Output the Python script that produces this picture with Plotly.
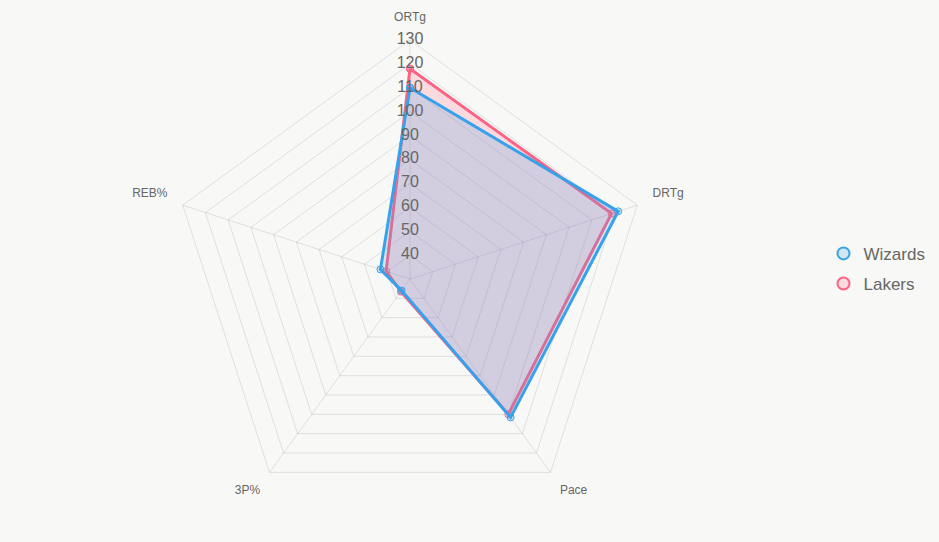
import plotly.graph_objects as go

categories = ["ORTg", "DRTg", "Pace", "3P%", "REB%"]
wizards = [110, 121.6, 101.6, 36, 43]
lakers = [118, 118.7, 100, 36.5, 40.5]
tick_values = [40, 50, 60, 70, 80, 90, 100, 110, 120, 130]
tick_labels = [str(v) for v in tick_values]
scale_min, scale_max = 30, 130

BLUE = "rgb(54,162,235)"
BLUE_FILL = "rgba(54,162,235,0.2)"
RED = "rgb(255,99,132)"
RED_FILL = "rgba(255,99,132,0.2)"
GRID = "rgba(0,0,0,0.1)"
FONT = "Liberation Sans, Arial, sans-serif"

fig = go.Figure()

def closed(vals):
    return list(vals) + [vals[0]]

# spokes (angle lines) from the centre to the outer ring
spoke_r, spoke_t = [], []
for c in categories:
    spoke_r += [scale_min, scale_max, None]
    spoke_t += [c, c, None]
fig.add_trace(go.Scatterpolar(
    r=spoke_r, theta=spoke_t, mode="lines", line=dict(color=GRID, width=1),
    showlegend=False, hoverinfo="skip", connectgaps=False,
))

for name, vals, line, fillc in [("Lakers", lakers, RED, RED_FILL), ("Wizards", wizards, BLUE, BLUE_FILL)]:
    fig.add_trace(go.Scatterpolar(
        r=closed(vals), theta=closed(categories), mode="lines+markers",
        fill="toself", fillcolor=fillc,
        line=dict(color=line, width=3),
        marker=dict(size=7, color=fillc, line=dict(color=line, width=1)),
        name=name, showlegend=False, hoverinfo="skip",
    ))

# radial tick labels drawn along the ORTg spoke
fig.add_trace(go.Scatterpolar(
    r=tick_values, theta=[categories[0]] * len(tick_values),
    mode="text", text=tick_labels, textposition="middle center",
    textfont=dict(family=FONT, size=16, color="#666"),
    showlegend=False, hoverinfo="skip",
))

# point (category) labels just outside the outer ring
label_r = scale_max + 6.7
fig.add_trace(go.Scatterpolar(
    r=[label_r] * len(categories), theta=categories, mode="text", text=categories,
    textposition=["top center", "top right", "bottom right", "bottom left", "top left"],
    textfont=dict(family=FONT, size=12, color="#666"),
    cliponaxis=False, showlegend=False, hoverinfo="skip",
))

# legend entries
for name, line, fillc, rank in [("Wizards", BLUE, BLUE_FILL, 1), ("Lakers", RED, RED_FILL, 2)]:
    fig.add_trace(go.Scatterpolar(
        r=[None], theta=[None], mode="markers", name=name, legendrank=rank, legendgroup=name,
        marker=dict(symbol="circle", size=15, color=fillc, line=dict(color=line, width=1.5)),
    ))

range_max = 140
W, H = 939, 542
cx, cy = 410, 279
R130 = 239
R = R130 * (range_max - scale_min) / (scale_max - scale_min)

fig.update_layout(
    width=W, height=H,
    margin=dict(l=0, r=0, t=0, b=0),
    paper_bgcolor="#f8f8f6",
    plot_bgcolor="#f8f8f6",
    font=dict(family=FONT, color="#666"),
    polar=dict(
        domain=dict(x=[(cx - R) / W, (cx + R) / W],
                    y=[max(0, 1 - (cy + R) / H), min(1, 1 - (cy - R) / H)]),
        bgcolor="rgba(0,0,0,0)",
        gridshape="linear",
        radialaxis=dict(range=[scale_min, range_max], tickvals=tick_values, showticklabels=False,
                        ticks="", showline=False, gridcolor=GRID, gridwidth=1, angle=90),
        angularaxis=dict(rotation=90, direction="clockwise", showline=False,
                         showgrid=False, ticks="", showticklabels=False),
    ),
    legend=dict(x=0.877, y=0.504, xanchor="left", yanchor="middle",
                font=dict(family=FONT, size=17, color="#666"), bgcolor="rgba(0,0,0,0)",
                itemsizing="constant", tracegroupgap=5),
)

fig.write_html("out.html")
